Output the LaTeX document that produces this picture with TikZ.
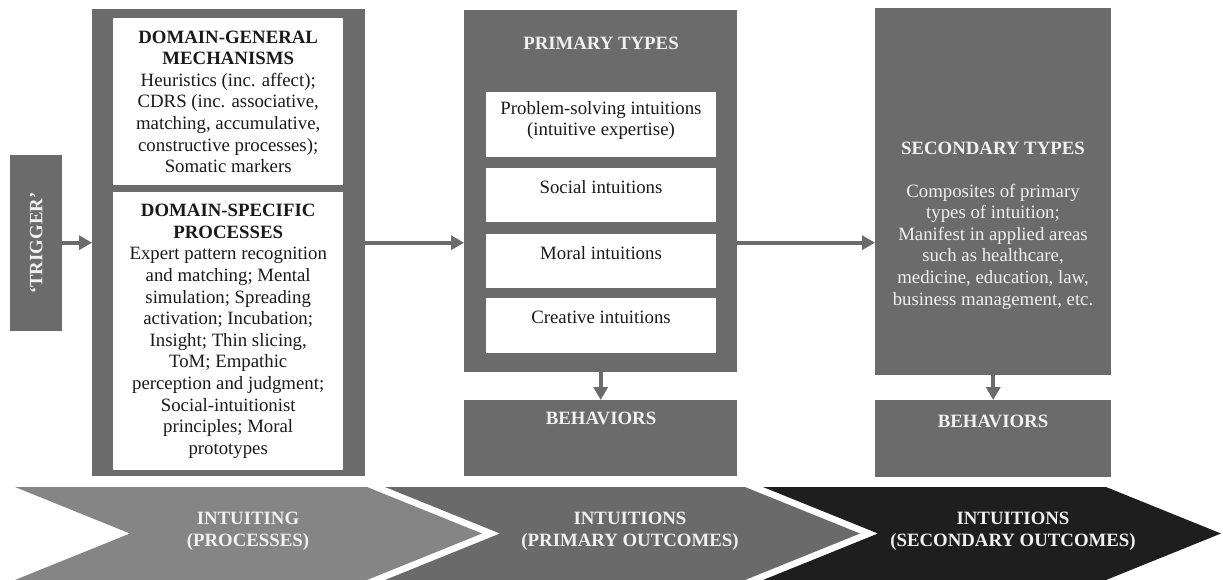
\documentclass[tikz,border=0pt]{standalone}
\usepackage{fontspec}
\setmainfont{Liberation Serif}
\usetikzlibrary{arrows.meta}
\definecolor{boxgray}{HTML}{6B6B6B}
\definecolor{chevA}{HTML}{858585}
\definecolor{chevB}{HTML}{6A6A6A}
\definecolor{chevC}{HTML}{1E1E1E}
\definecolor{darktext}{HTML}{1A1A1A}
\definecolor{lighttext}{HTML}{F0F0F0}
\begin{document}
\begin{tikzpicture}[x=1pt,y=-1pt,
  graybox/.style={fill=boxgray, draw=none, inner sep=0pt, anchor=north west},
  whitebox/.style={fill=white, draw=none, inner sep=0pt, anchor=north west},
  dtxt/.style={text=darktext, align=center, font=\fontsize{18.8}{21.6}\selectfont, inner sep=0pt},
  ltxt/.style={text=lighttext, align=center, font=\fontsize{18.8}{21.6}\selectfont, inner sep=0pt},
  conn/.style={draw=boxgray, line width=4pt, -{Triangle[length=13pt,width=14pt]}},
]
\useasboundingbox (0,0) rectangle (1223,579);

% chevrons
\fill[chevC] (763,487) -- (1106,487) -- (1221,533.5) -- (1106,580) -- (763,580) -- (878,533.5) -- cycle;
\fill[chevB] (385,487) -- (745,487) -- (860,533.5) -- (745,580) -- (385,580) -- (500,533.5) -- cycle;
\fill[chevA] (15,487) -- (367,487) -- (482,533.5) -- (367,580) -- (15,580) -- (130,533.5) -- cycle;
\node[ltxt] (c1) at (248,531) {\bfseries INTUITING\\\bfseries (PROCESSES)};
\node[ltxt] (c2) at (630,531) {\bfseries INTUITIONS\\\bfseries (PRIMARY OUTCOMES)};
\node[ltxt] (c3) at (1013,531) {\bfseries INTUITIONS\\\bfseries (SECONDARY OUTCOMES)};

% trigger
\node[graybox, minimum width=52pt, minimum height=176pt] (trig) at (10,155) {};
\node[ltxt, rotate=90] (trigt) at (trig.center) {\bfseries ‘TRIGGER’};

% left block
\node[graybox, minimum width=273pt, minimum height=467pt] (lbox) at (92,9) {};
\node[whitebox, dtxt, minimum width=230pt, minimum height=167pt, anchor=north west] (gen) at (113,18)
 {\bfseries DOMAIN-GENERAL\\\bfseries MECHANISMS\\Heuristics (inc. affect);\\CDRS (inc. associative,\\matching, accumulative,\\constructive processes);\\Somatic markers};
\node[whitebox, dtxt, minimum width=230pt, minimum height=278pt, anchor=north west] (spec) at (113,192)
 {\bfseries DOMAIN-SPECIFIC\\\bfseries PROCESSES\\Expert pattern recognition\\and matching; Mental\\simulation; Spreading\\activation; Incubation;\\Insight; Thin slicing,\\ToM; Empathic\\perception and judgment;\\Social-intuitionist\\principles; Moral\\prototypes};

% middle block
\node[graybox, minimum width=273pt, minimum height=362pt] (mbox) at (464,10) {};
\node[ltxt] (mhead) at (601,43) {\bfseries PRIMARY TYPES};
\node[whitebox, minimum width=230pt, minimum height=65pt] (p1) at (486,92) {};
\node[whitebox, minimum width=230pt, minimum height=54pt] (p2) at (486,168) {};
\node[whitebox, minimum width=230pt, minimum height=54pt] (p3) at (486,234) {};
\node[whitebox, minimum width=230pt, minimum height=55pt] (p4) at (486,298) {};
\node[dtxt] (p1t) at (601,120.5) {Problem-solving intuitions\\(intuitive expertise)};
\node[dtxt] (p2t) at (601,187) {Social intuitions};
\node[dtxt] (p3t) at (601,253) {Moral intuitions};
\node[dtxt] (p4t) at (601,317) {Creative intuitions};
\node[graybox, minimum width=273pt, minimum height=76pt] (mbeh) at (464,400) {};
\node[ltxt] (mbeht) at (601,418) {\bfseries BEHAVIORS};

% right block
\node[graybox, minimum width=236pt, minimum height=367pt] (rbox) at (875,8) {};
\node[ltxt] (rhead) at (993,148) {\bfseries SECONDARY TYPES};
\node[ltxt] (rbody) at (993,246.5) {Composites of primary\\types of intuition;\\Manifest in applied areas\\such as healthcare,\\medicine, education, law,\\business management, etc.};
\node[graybox, minimum width=236pt, minimum height=77pt] (rbeh) at (875,400) {};
\node[ltxt] (rbeht) at (993,421) {\bfseries BEHAVIORS};

% connectors
\draw[conn] (trig.east |- lbox.west) -- (lbox.west);
\draw[conn] (lbox.east) -- (mbox.west |- lbox.east);
\draw[conn] (mbox.east |- lbox.east) -- (rbox.west |- lbox.east);
\draw[conn] (mbox.south) -- (mbeh.north);
\draw[conn] (rbox.south) -- (rbeh.north);
\end{tikzpicture}
\end{document}
